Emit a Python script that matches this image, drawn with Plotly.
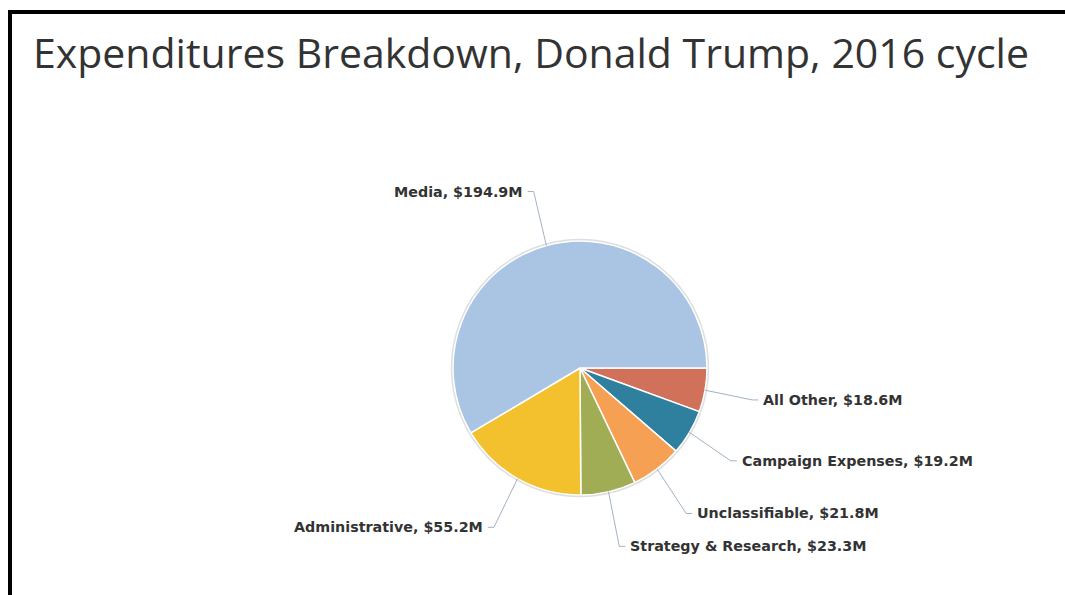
import math
import plotly.graph_objects as go

# Spending categories and totals (millions of dollars)
categories = ["Media", "Administrative", "Strategy & Research",
              "Unclassifiable", "Campaign Expenses", "All Other"]
amounts = [194.9, 55.2, 23.3, 21.8, 19.2, 18.6]
colors = ["#aac4e4", "#f4c12e", "#a1ad55", "#f5a052", "#2f7f9e", "#d2715a"]

W, H = 1065, 595
CX, CY, R = 580, 368, 127          # pie centre and radius in pixels
RX_LABEL, RY_LABEL = 175, 183       # where leader lines bend (elliptical ring)
TICK = 6                            # short horizontal end of each leader


def px(x):
    return x / W


def py(y):
    return 1 - y / H


# Slices run counterclockwise from 3 o'clock: drawing the reversed order
# clockwise from 3 o'clock gives the same arrangement.
fig = go.Figure(go.Pie(
    labels=categories[::-1],
    values=amounts[::-1],
    sort=False,
    direction="clockwise",
    rotation=90,
    marker=dict(colors=colors[::-1], line=dict(color="white", width=1.5)),
    textinfo="none",
    hoverinfo="label+value",
    domain=dict(x=[px(CX - R), px(CX + R)], y=[py(CY + R), py(CY - R)]),
    showlegend=False,
))

shapes = []
annotations = []

# faint outline around the pie
shapes.append(dict(type="circle", xref="paper", yref="paper",
                   x0=px(CX - R - 1.5), x1=px(CX + R + 1.5),
                   y0=py(CY + R + 1.5), y1=py(CY - R - 1.5),
                   line=dict(color="rgba(0,0,0,0.13)", width=1.5),
                   layer="above"))

# leader lines and labels placed at each slice's mid-angle
total = sum(amounts)
start = 0.0
for name, val in zip(categories, amounts):
    sweep = val / total * 360
    mid = math.radians(start + sweep / 2)
    start += sweep
    c, s = math.cos(mid), math.sin(mid)
    ex, ey = CX + R * c, CY - R * s
    bx, by = CX + RX_LABEL * c, CY - RY_LABEL * s
    side = 1 if c >= 0 else -1
    tx = bx + side * TICK
    shapes.append(dict(type="path", xref="paper", yref="paper",
                       path=f"M {px(ex)} {py(ey)} L {px(bx)} {py(by)} L {px(tx)} {py(by)}",
                       line=dict(color="#a3b2c2", width=1)))
    annotations.append(dict(
        x=px(tx + side * 3), y=py(by), xref="paper", yref="paper",
        xanchor="left" if side > 0 else "right", yanchor="middle",
        text=f"{name}, ${val:.1f}M", showarrow=False,
        font=dict(family="DejaVu Sans", size=14.3, color="#333333", weight="bold"),
    ))

# frame lines along the top and left edges
shapes.append(dict(type="line", xref="paper", yref="paper",
                   x0=px(8), x1=1, y0=py(12), y1=py(12),
                   line=dict(color="black", width=4)))
shapes.append(dict(type="line", xref="paper", yref="paper",
                   x0=px(10), x1=px(10), y0=py(10), y1=0,
                   line=dict(color="black", width=4)))

fig.update_layout(
    width=W, height=H,
    margin=dict(l=0, r=0, t=0, b=0),
    paper_bgcolor="white",
    plot_bgcolor="white",
    title=dict(text="Expenditures Breakdown, Donald Trump, 2016 cycle",
               x=px(33), xanchor="left", xref="paper",
               y=py(54), yanchor="middle", yref="paper",
               font=dict(family="Open Sans", size=41, color="#333333")),
    shapes=shapes,
    annotations=annotations,
)

fig.write_html("out.html")
